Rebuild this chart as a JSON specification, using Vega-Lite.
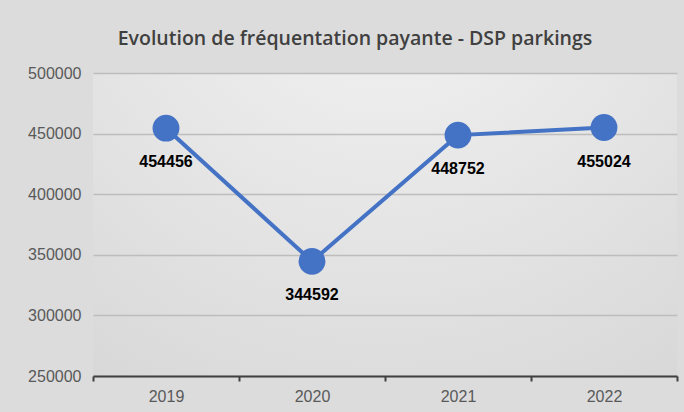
{
  "$schema": "https://vega.github.io/schema/vega-lite/v6.json",
  "width": 584,
  "height": 303,
  "autosize": {"type": "none"},
  "padding": {"left": 93, "top": 73, "right": 7, "bottom": 36},
  "background": "#dcdcdc",
  "title": {
    "text": "Evolution de fréquentation payante - DSP parkings",
    "font": "Open Sans",
    "fontSize": 19.5,
    "fontWeight": 600,
    "color": "#404040",
    "anchor": "middle",
    "dx": -30,
    "offset": 16
  },
  "config": {
    "view": {
      "stroke": null,
      "fill": {
        "gradient": "radial",
        "x1": 0.5, "y1": 0, "r1": 0,
        "x2": 0.5, "y2": 0, "r2": 1.1,
        "stops": [
          {"offset": 0, "color": "#f5f5f5"},
          {"offset": 1, "color": "#d2d2d2"}
        ]
      }
    },
    "axis": {
      "labelFont": "Liberation Sans",
      "labelFontSize": 16,
      "labelColor": "#595959"
    }
  },
  "data": {
    "values": [
      {"year": "2019", "value": 454456},
      {"year": "2020", "value": 344592},
      {"year": "2021", "value": 448752},
      {"year": "2022", "value": 455024}
    ]
  },
  "encoding": {
    "x": {
      "field": "year",
      "type": "ordinal",
      "scale": {"paddingInner": 0, "paddingOuter": 0},
      "axis": {
        "title": null,
        "labelAngle": 0,
        "tickBand": "extent",
        "domainColor": "#404040",
        "domainWidth": 2,
        "tickColor": "#404040",
        "tickWidth": 2,
        "tickSize": 5,
        "labelPadding": 7,
        "grid": false
      }
    },
    "y": {
      "field": "value",
      "type": "quantitative",
      "scale": {"domain": [250000, 500000], "nice": false, "zero": false},
      "axis": {
        "title": null,
        "values": [250000, 300000, 350000, 400000, 450000, 500000],
        "format": "d",
        "domain": false,
        "ticks": false,
        "labelPadding": 12,
        "gridColor": "#bdbdbd",
        "gridWidth": 1.5
      }
    }
  },
  "layer": [
    {
      "mark": {"type": "line", "color": "#4472c4", "strokeWidth": 4}
    },
    {
      "mark": {"type": "circle", "color": "#4472c4", "opacity": 1, "size": 720}
    },
    {
      "mark": {
        "type": "text",
        "font": "Liberation Sans",
        "fontSize": 16,
        "fontWeight": "bold",
        "color": "#000000",
        "baseline": "middle",
        "dy": 34
      },
      "encoding": {
        "text": {"field": "value", "type": "quantitative", "format": "d"}
      }
    }
  ]
}
